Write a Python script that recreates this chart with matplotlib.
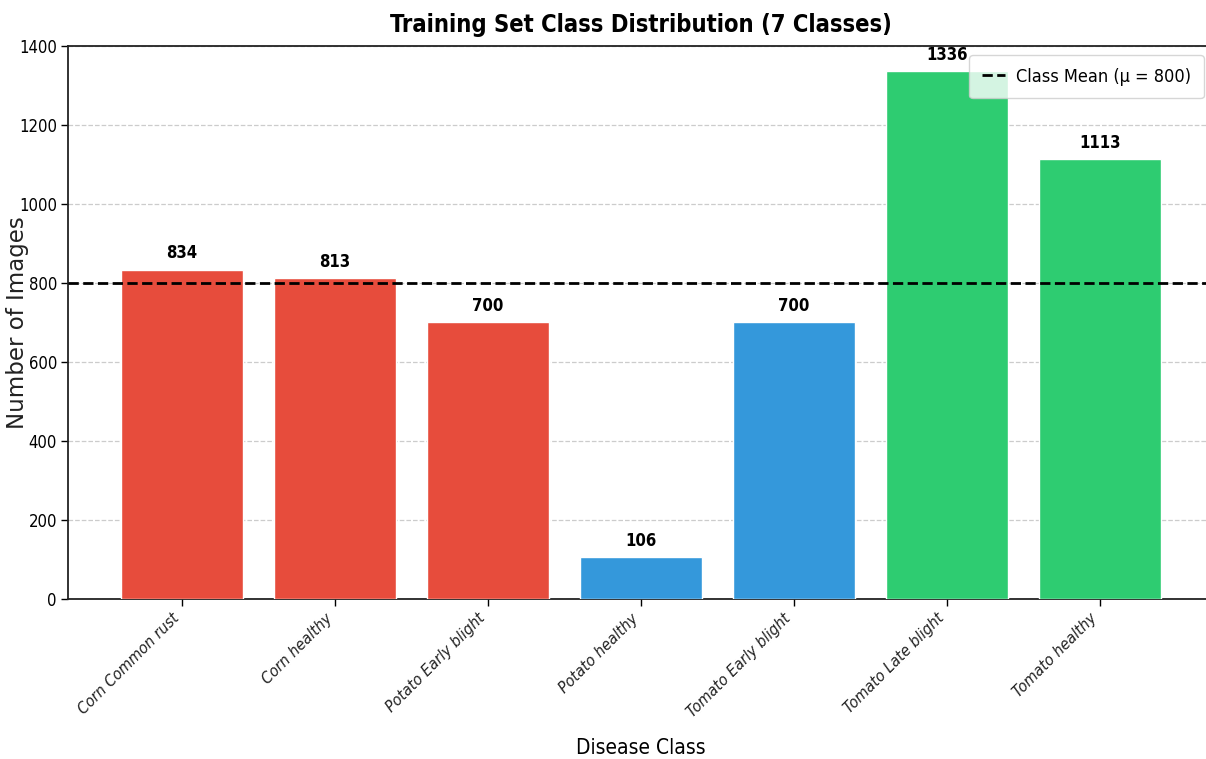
import numpy as np
import matplotlib
matplotlib.use('Agg')
import matplotlib.pyplot as plt

# data
classes = ['Corn Common rust', 'Corn healthy', 'Potato Early blight', 'Potato healthy',
           'Tomato Early blight', 'Tomato Late blight', 'Tomato healthy']
counts = [834, 813, 700, 106, 700, 1336, 1113]
bar_colors = ['#e74c3c', '#e74c3c', '#e74c3c', '#3498db', '#3498db', '#2ecc71', '#2ecc71']
y_ticks = [0, 200, 400, 600, 800, 1000, 1200, 1400]

# narrow look of the reference text
plt.rcParams['font.family'] = ['DejaVu Sans']
plt.rcParams['font.stretch'] = 'condensed'

fig = plt.figure(figsize=(12.06, 7.59), dpi=100)
ax = fig.add_axes([0.0564, 0.2108, 0.9494, 0.7286])

x = np.arange(len(classes))
bars = ax.bar(x, counts, width=0.8, color=bar_colors, edgecolor='white', linewidth=1, zorder=3)

mean_val = np.mean(counts)
ax.axhline(mean_val, color='black', linestyle='--', linewidth=2,
           label=f'Class Mean (\u03bc = {mean_val:.0f})', zorder=4)

for b, v in zip(bars, counts):
    ax.text(b.get_x() + b.get_width() / 2, v + 18, str(v), ha='center', va='bottom',
            fontsize=12, fontweight='bold')

ax.set_xlim(-0.745, 6.74)
ax.set_ylim(0, 1400)
ax.set_yticks(y_ticks)
ax.set_xticks(x)
ax.set_xticklabels(classes, rotation=45, ha='right', fontsize=11.5, style='italic', color='#222222')
ax.tick_params(axis='y', labelsize=12, length=5, width=1, pad=3)
ax.tick_params(axis='x', length=5, width=1)

ax.grid(axis='y', linestyle='--', color='#cccccc', linewidth=0.9, zorder=0)
ax.set_axisbelow(True)

for s in ['left', 'bottom', 'top', 'right']:
    ax.spines[s].set_linewidth(1.3)
    ax.spines[s].set_color('#222222')

ax.set_title('Training Set Class Distribution (7 Classes)', fontsize=17, fontweight='bold', pad=10)
ax.set_xlabel('Disease Class', fontsize=15)
ax.set_ylabel('Number of Images', fontsize=16.5, fontstretch='normal', color='#222222')
ax.xaxis.set_label_coords(0.5, -0.252)
ax.yaxis.set_label_coords(-0.034, 0.5)

ax.legend(loc='upper right', fontsize=13, frameon=True, handlelength=1.3,
          handletextpad=0.6, borderpad=0.7)

fig.savefig('out.png', dpi=100)
